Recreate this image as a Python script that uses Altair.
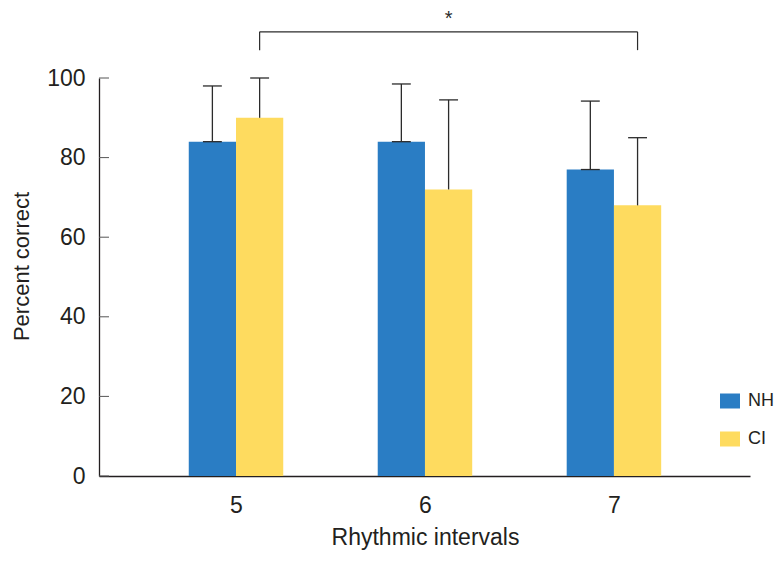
import altair as alt
import pandas as pd

# ---- data ----
intervals = [5, 6, 7]
groups = ["NH", "CI"]
nh_mean = [84.0, 84.0, 77.0]
ci_mean = [90.0, 72.0, 68.0]
nh_upper = [98.0, 98.5, 94.2]
ci_upper = [100.0, 94.5, 85.0]
y_ticks = [0, 20, 40, 60, 80, 100]
sig_pair = [5, 7]          # significance bracket between CI at 5 and CI at 7
sig_label = "*"

colors = {"NH": "#2a7dc4", "CI": "#fedb5f"}
BAR_W = 0.25               # bar width in x units
CAP_HALF = 0.05
INK = "#2b2b2b"
AX = "#231f20"

rows = []
for i, iv in enumerate(intervals):
    for g, mean, up in (("NH", nh_mean[i], nh_upper[i]), ("CI", ci_mean[i], ci_upper[i])):
        x0 = iv - BAR_W if g == "NH" else iv
        x1 = iv if g == "NH" else iv + BAR_W
        c = (x0 + x1) / 2
        rows.append(dict(interval=iv, group=g, mean=mean, upper=up,
                         x0=x0, x1=x1, c=c, c0=c - CAP_HALF, c1=c + CAP_HALF))
df = pd.DataFrame(rows)

xs = alt.Scale(domain=[4.275, 7.72], nice=False, zero=False)
ys = alt.Scale(domain=[0, 100], nice=False)

bars = alt.Chart(df).mark_bar(stroke=None).encode(
    x=alt.X("x0:Q", scale=xs,
            axis=alt.Axis(values=intervals, title="Rhythmic intervals", grid=False,
                          ticks=False, tickSize=0, labelPadding=18, labelFontSize=23,
                          labelFont="Liberation Sans", labelColor=AX,
                          titleFont="Liberation Sans", titleFontSize=23,
                          titleFontWeight="normal", titleColor=AX,
                          titleX=326, titleY=50, titleBaseline="top", titleAlign="center",
                          domainColor=AX, domainWidth=1.3, domainOpacity=1, format="d")),
    x2="x1:Q",
    y=alt.Y("mean:Q", scale=ys,
            axis=alt.Axis(values=y_ticks, title="Percent correct", grid=False,
                          ticks=False, tickSize=0, labelPadding=14, labelFontSize=23,
                          labelFont="Liberation Sans", labelColor=AX,
                          titleFont="Liberation Sans", titleFontSize=22,
                          titleFontWeight="normal", titleColor=AX,
                          titlePadding=13, titleY=188,
                          domainColor=AX, domainWidth=1.3, domainOpacity=1)),
    y2=alt.datum(0),
    color=alt.Color("group:N", scale=alt.Scale(domain=groups, range=[colors[g] for g in groups]),
                    legend=alt.Legend(title=None, orient="none", legendX=621, legendY=313,
                                      symbolType="M-1,-0.75H1V0.75H-1Z", symbolSize=400,
                                      symbolStrokeWidth=0, labelFontSize=18,
                                      labelFont="Liberation Sans", labelColor=AX,
                                      labelOffset=8, rowPadding=19, padding=0)),
)

err = alt.Chart(df).mark_rule(color=INK, strokeWidth=1.3).encode(
    x="c:Q", y="mean:Q", y2="upper:Q")
cap_top = alt.Chart(df).mark_rule(color=INK, strokeWidth=1.3).encode(
    x="c0:Q", x2="c1:Q", y="upper:Q")
cap_low = alt.Chart(df).transform_filter(alt.datum.group == "NH").mark_rule(
    color=INK, strokeWidth=1.3).encode(x="c0:Q", x2="c1:Q", y="mean:Q")

ytick_df = pd.DataFrame({"v": y_ticks})
yticks = alt.Chart(ytick_df).mark_rule(color="#555555", strokeWidth=1).encode(
    x=alt.value(0), x2=alt.value(10), y="v:Q")

# significance bracket
cx = [iv + BAR_W / 2 for iv in sig_pair]
br_top, br_bot, star_y = 111.6, 107.0, 113.3
bracket_h = pd.DataFrame({"a": [cx[0]], "b": [cx[1]], "y": [br_top]})
bracket_v = pd.DataFrame({"x": cx, "y": [br_bot, br_bot], "y2": [br_top, br_top]})
star_df = pd.DataFrame({"x": [(cx[0] + cx[1]) / 2], "y": [star_y], "t": [sig_label]})

b_h = alt.Chart(bracket_h).mark_rule(color=INK, strokeWidth=1.2).encode(
    x="a:Q", x2="b:Q", y="y:Q")
b_v = alt.Chart(bracket_v).mark_rule(color=INK, strokeWidth=1.2).encode(
    x="x:Q", y="y:Q", y2="y2:Q")
star = alt.Chart(star_df).mark_text(fontSize=20, font="Liberation Sans", color=INK,
                                    baseline="alphabetic").encode(
    x="x:Q", y="y:Q", text="t:N")

chart = alt.layer(bars, err, cap_top, cap_low, yticks, b_h, b_v, star).properties(
    width=651, height=398,
    background="white",
    autosize=alt.AutoSizeParams(type="none"),
    padding={"left": 91, "top": 70, "right": 24, "bottom": 79},
).configure_view(stroke=None)

chart.save("out.html", embed_options={"renderer": "svg", "actions": False})
